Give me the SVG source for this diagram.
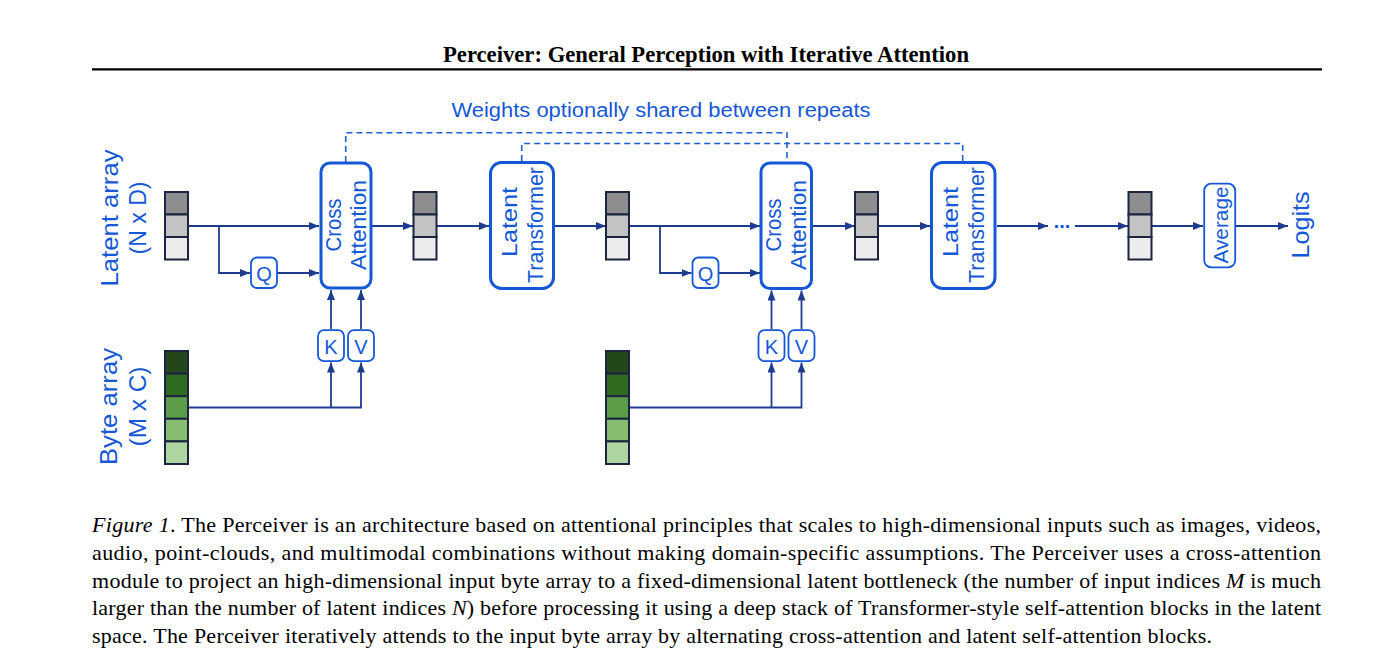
<svg xmlns="http://www.w3.org/2000/svg" width="1382" height="672" viewBox="0 0 1382 672">
<defs>
<marker id="arr" markerWidth="10" markerHeight="8" refX="10" refY="4" orient="auto" markerUnits="userSpaceOnUse"><path d="M0,0 L10,4 L0,8 z" fill="#1d3c8f"/></marker>
<style>
.blk{fill:#fff;stroke:#1558d6;stroke-width:3}
.sm{fill:#fff;stroke:#1558d6;stroke-width:1.8}
.lbl{font-family:"Liberation Sans",Arial,sans-serif;fill:#1558d6}
.con{fill:none;stroke:#1d3c8f;stroke-width:1.8}
.dash{fill:none;stroke:#1a5fd6;stroke-width:1.6;stroke-dasharray:6 4}
.cell{stroke:#1c2540;stroke-width:2}
.g1{fill:#8e8e8e}.g2{fill:#c3c3c3}.g3{fill:#ececec}
.b1{fill:#23461a}.b2{fill:#2e6b20}.b3{fill:#5b9d49}.b4{fill:#87bd71}.b5{fill:#afd6a0}
.cap{font-family:"Liberation Serif","Times New Roman",serif;font-size:22px;fill:#000}
</style>
</defs>
<rect width="1382" height="672" fill="#fff"/>

<g id="header">
<text x="706" y="61.5" text-anchor="middle" font-family="Liberation Serif, Times New Roman, serif" font-weight="bold" font-size="22.5" textLength="526" lengthAdjust="spacingAndGlyphs">Perceiver: General Perception with Iterative Attention</text>
<line x1="92" y1="69.3" x2="1322" y2="69.3" stroke="#000" stroke-width="2.2"/>
</g>

<g id="weights-note">
<text class="lbl" x="661" y="117" text-anchor="middle" font-size="20" textLength="419" lengthAdjust="spacingAndGlyphs">Weights optionally shared between repeats</text>
<path class="dash" d="M345.7,162 V132.7 H787 V162"/>
<path class="dash" d="M521.7,161 V143.5 H962.7 V161"/>
</g>

<g id="connectors">
<path class="con" d="M188,226 H319" marker-end="url(#arr)"/>
<path class="con" d="M219,226 V273 H250" marker-end="url(#arr)"/>
<path class="con" d="M277,273 H319" marker-end="url(#arr)"/>
<path class="con" d="M372,226 H413" marker-end="url(#arr)"/>
<path class="con" d="M437,226 H489" marker-end="url(#arr)"/>
<path class="con" d="M555,226 H606" marker-end="url(#arr)"/>
<path class="con" d="M629,226 H760" marker-end="url(#arr)"/>
<path class="con" d="M660,226 V273 H691.5" marker-end="url(#arr)"/>
<path class="con" d="M718.5,273 H760" marker-end="url(#arr)"/>
<path class="con" d="M813,226 H855" marker-end="url(#arr)"/>
<path class="con" d="M878,226 H930" marker-end="url(#arr)"/>
<path class="con" d="M997,226 H1048" marker-end="url(#arr)"/>
<path class="con" d="M1075,226 H1128" marker-end="url(#arr)"/>
<path class="con" d="M1152,226 H1203" marker-end="url(#arr)"/>
<path class="con" d="M1236,226 H1288" marker-end="url(#arr)"/>
<path class="con" d="M331,329 V290" marker-end="url(#arr)"/>
<path class="con" d="M361,329 V290" marker-end="url(#arr)"/>
<path class="con" d="M188,407.5 H361 V362.5" marker-end="url(#arr)"/>
<path class="con" d="M331,407.5 V362.5" marker-end="url(#arr)"/>
<path class="con" d="M771.5,329 V290.5" marker-end="url(#arr)"/>
<path class="con" d="M801.5,329 V290.5" marker-end="url(#arr)"/>
<path class="con" d="M629,407.5 H801.5 V362.5" marker-end="url(#arr)"/>
<path class="con" d="M771.5,407.5 V362.5" marker-end="url(#arr)"/>
<text x="1062" y="228" text-anchor="middle" font-family="Liberation Sans, Arial, sans-serif" font-size="20" font-weight="bold" fill="#1558d6">...</text>
</g>

<g id="latent-label">
<text class="lbl" font-size="24" text-anchor="middle" textLength="137" lengthAdjust="spacingAndGlyphs" transform="translate(118,218) rotate(-90)">Latent array</text>
<text class="lbl" font-size="24" text-anchor="middle" textLength="73" lengthAdjust="spacingAndGlyphs" transform="translate(146,218) rotate(-90)">(N x D)</text>
</g>
<g id="byte-label">
<text class="lbl" font-size="24" text-anchor="middle" textLength="117" lengthAdjust="spacingAndGlyphs" transform="translate(117,406.5) rotate(-90)">Byte array</text>
<text class="lbl" font-size="24" text-anchor="middle" textLength="80" lengthAdjust="spacingAndGlyphs" transform="translate(146,406.5) rotate(-90)">(M x C)</text>
</g>

<g id="latent1">
<rect class="cell g1" x="165" y="192" width="23" height="22.5"/>
<rect class="cell g2" x="165" y="214.5" width="23" height="22.5"/>
<rect class="cell g3" x="165" y="237" width="23" height="22.5"/>
</g>
<g id="latent2">
<rect class="cell g1" x="413.5" y="192" width="23" height="22.5"/>
<rect class="cell g2" x="413.5" y="214.5" width="23" height="22.5"/>
<rect class="cell g3" x="413.5" y="237" width="23" height="22.5"/>
</g>
<g id="latent3">
<rect class="cell g1" x="606" y="192" width="23" height="22.5"/>
<rect class="cell g2" x="606" y="214.5" width="23" height="22.5"/>
<rect class="cell g3" x="606" y="237" width="23" height="22.5"/>
</g>
<g id="latent4">
<rect class="cell g1" x="855" y="192" width="23" height="22.5"/>
<rect class="cell g2" x="855" y="214.5" width="23" height="22.5"/>
<rect class="cell g3" x="855" y="237" width="23" height="22.5"/>
</g>
<g id="latent5">
<rect class="cell g1" x="1128.5" y="192" width="23" height="22.5"/>
<rect class="cell g2" x="1128.5" y="214.5" width="23" height="22.5"/>
<rect class="cell g3" x="1128.5" y="237" width="23" height="22.5"/>
</g>

<g id="byte1">
<rect class="cell b1" x="165" y="351" width="23" height="22.6"/>
<rect class="cell b2" x="165" y="373.6" width="23" height="22.6"/>
<rect class="cell b3" x="165" y="396.2" width="23" height="22.6"/>
<rect class="cell b4" x="165" y="418.8" width="23" height="22.6"/>
<rect class="cell b5" x="165" y="441.4" width="23" height="22.6"/>
</g>
<g id="byte2">
<rect class="cell b1" x="606" y="351" width="23" height="22.6"/>
<rect class="cell b2" x="606" y="373.6" width="23" height="22.6"/>
<rect class="cell b3" x="606" y="396.2" width="23" height="22.6"/>
<rect class="cell b4" x="606" y="418.8" width="23" height="22.6"/>
<rect class="cell b5" x="606" y="441.4" width="23" height="22.6"/>
</g>

<g id="cross-attention-1">
<rect class="blk" x="321" y="163" width="50" height="125" rx="9"/>
<text class="lbl" font-size="22" text-anchor="middle" textLength="53" lengthAdjust="spacingAndGlyphs" transform="translate(341,225) rotate(-90)">Cross</text>
<text class="lbl" font-size="22" text-anchor="middle" textLength="90" lengthAdjust="spacingAndGlyphs" transform="translate(366,225) rotate(-90)">Attention</text>
</g>
<g id="latent-transformer-1">
<rect class="blk" x="490.5" y="162.5" width="63" height="126" rx="11"/>
<text class="lbl" font-size="22" text-anchor="middle" textLength="70" lengthAdjust="spacingAndGlyphs" transform="translate(517,222) rotate(-90)">Latent</text>
<text class="lbl" font-size="22" text-anchor="middle" textLength="116" lengthAdjust="spacingAndGlyphs" transform="translate(543,225) rotate(-90)">Transformer</text>
</g>
<g id="cross-attention-2">
<rect class="blk" x="761" y="163" width="50.5" height="125.5" rx="9"/>
<text class="lbl" font-size="22" text-anchor="middle" textLength="53" lengthAdjust="spacingAndGlyphs" transform="translate(781,225) rotate(-90)">Cross</text>
<text class="lbl" font-size="22" text-anchor="middle" textLength="90" lengthAdjust="spacingAndGlyphs" transform="translate(806,225) rotate(-90)">Attention</text>
</g>
<g id="latent-transformer-2">
<rect class="blk" x="931.5" y="162.5" width="63.5" height="126" rx="11"/>
<text class="lbl" font-size="22" text-anchor="middle" textLength="70" lengthAdjust="spacingAndGlyphs" transform="translate(958,222) rotate(-90)">Latent</text>
<text class="lbl" font-size="22" text-anchor="middle" textLength="116" lengthAdjust="spacingAndGlyphs" transform="translate(984,225) rotate(-90)">Transformer</text>
</g>

<g id="q1">
<rect class="sm" x="251" y="257.5" width="26" height="30.5" rx="6"/>
<text class="lbl" x="264" y="280.5" font-size="20" text-anchor="middle">Q</text>
</g>
<g id="q2">
<rect class="sm" x="692.5" y="257.5" width="26" height="30.5" rx="6"/>
<text class="lbl" x="705.5" y="280.5" font-size="20" text-anchor="middle">Q</text>
</g>
<g id="k1">
<rect class="sm" x="318" y="330.2" width="26" height="31" rx="6"/>
<text class="lbl" x="331" y="353.5" font-size="20" text-anchor="middle">K</text>
</g>
<g id="v1">
<rect class="sm" x="348" y="330.2" width="26" height="31" rx="6"/>
<text class="lbl" x="361" y="353.5" font-size="20" text-anchor="middle">V</text>
</g>
<g id="k2">
<rect class="sm" x="758.5" y="330.2" width="26" height="31" rx="6"/>
<text class="lbl" x="771.5" y="353.5" font-size="20" text-anchor="middle">K</text>
</g>
<g id="v2">
<rect class="sm" x="788.5" y="330.2" width="26" height="31" rx="6"/>
<text class="lbl" x="801.5" y="353.5" font-size="20" text-anchor="middle">V</text>
</g>

<g id="average">
<rect class="sm" x="1204.2" y="183.7" width="31" height="83.6" rx="7"/>
<text class="lbl" font-size="20" text-anchor="middle" textLength="77" lengthAdjust="spacingAndGlyphs" transform="translate(1228,225) rotate(-90)">Average</text>
</g>
<g id="logits">
<text class="lbl" font-size="24" text-anchor="middle" textLength="67" lengthAdjust="spacingAndGlyphs" transform="translate(1309,225) rotate(-90)">Logits</text>
</g>

<g id="caption">
<text class="cap" x="92" y="531.7" textLength="1229" lengthAdjust="spacing"><tspan font-style="italic">Figure 1</tspan>. The Perceiver is an architecture based on attentional principles that scales to high-dimensional inputs such as images, videos,</text>
<text class="cap" x="92" y="559.6" textLength="1229" lengthAdjust="spacing">audio, point-clouds, and multimodal combinations without making domain-specific assumptions. The Perceiver uses a cross-attention</text>
<text class="cap" x="92" y="587.5" textLength="1229" lengthAdjust="spacing">module to project an high-dimensional input byte array to a fixed-dimensional latent bottleneck (the number of input indices <tspan font-style="italic">M</tspan> is much</text>
<text class="cap" x="92" y="615.4" textLength="1229" lengthAdjust="spacing">larger than the number of latent indices <tspan font-style="italic">N</tspan>) before processing it using a deep stack of Transformer-style self-attention blocks in the latent</text>
<text class="cap" x="92" y="643.3" textLength="1120" lengthAdjust="spacing">space. The Perceiver iteratively attends to the input byte array by alternating cross-attention and latent self-attention blocks.</text>
</g>
</svg>
